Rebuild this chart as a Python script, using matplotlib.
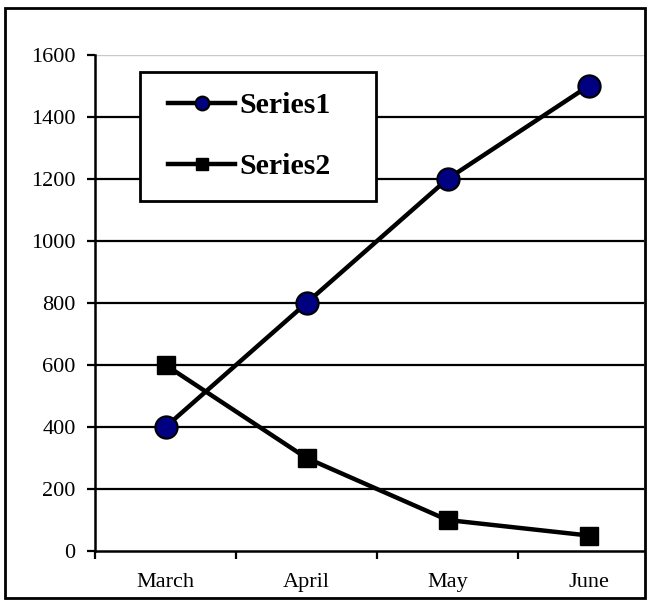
import matplotlib
matplotlib.use("Agg")
import matplotlib.pyplot as plt
from matplotlib.patches import Rectangle

categories = ["March", "April", "May", "June"]
series1 = [400, 800, 1200, 1500]
series2 = [600, 300, 100, 50]
series_names = ["Series1", "Series2"]
yticks = [0, 200, 400, 600, 800, 1000, 1200, 1400, 1600]

W, H = 649, 603
fig = plt.figure(figsize=(W / 100, H / 100), dpi=100)
plt.rcParams['font.family'] = ['Liberation Serif', 'DejaVu Serif']

ax_l, ax_r, ax_b, ax_t = 95, 644, 603 - 551, 603 - 55
ax = fig.add_axes([ax_l / W, ax_b / H, (ax_r - ax_l) / W, (ax_t - ax_b) / H])

x = list(range(len(categories)))
step = 141.0
ax.set_xlim(-0.5, -0.5 + (ax_r - ax_l) / step)
ax.set_ylim(0, 1600)

for v in yticks[1:]:
    col = "#c8c8c8" if v == 1600 else "black"
    lw = 1.0 if v == 1600 else 1.6
    ax.axhline(v, color=col, lw=lw, zorder=1)

ax.plot(x, series1, color="black", lw=3.2, marker="o", markersize=16,
        markerfacecolor="#000080", markeredgecolor="black", markeredgewidth=1.5,
        label=series_names[0], zorder=3)
ax.plot(x, series2, color="black", lw=3.2, marker="s", markersize=13,
        markerfacecolor="black", markeredgecolor="black",
        label=series_names[1], zorder=3)

ax.set_yticks(yticks)
ax.set_yticklabels([str(v) for v in yticks], fontsize=16)
ax.set_xticks([i - 0.5 for i in x])
ax.set_xticklabels([])
ax.set_xticks(x, minor=True)
ax.set_xticklabels(categories, minor=True, fontsize=16)
ax.tick_params(axis="x", which="minor", length=0, pad=16)
ax.tick_params(axis="x", which="major", length=6, width=1.6, direction="out")
ax.tick_params(axis="y", length=6, width=1.6, direction="out", pad=8)

for s in ["top", "right"]:
    ax.spines[s].set_visible(False)
for s in ["left", "bottom"]:
    ax.spines[s].set_linewidth(1.8)
    ax.spines[s].set_zorder(4)

# legend box drawn in the axes, frameless legend content above it
leg_x0, leg_y0, leg_x1, leg_y1 = 140, 72, 376, 201
ax.add_patch(Rectangle((leg_x0 / W, 1 - leg_y1 / H), (leg_x1 - leg_x0) / W,
                       (leg_y1 - leg_y0) / H, transform=fig.transFigure,
                       facecolor="white", edgecolor="black", lw=2.0, zorder=5,
                       clip_on=False))
leg = ax.legend(loc="upper left", bbox_to_anchor=(168 / W, 1 - 92 / H),
                bbox_transform=fig.transFigure, borderaxespad=0, borderpad=0,
                prop={"family": "Liberation Serif", "weight": "bold", "size": 21.5},
                frameon=False, handlelength=2.25, handletextpad=0.15,
                labelspacing=1.15, markerscale=0.62)
leg.set_zorder(6)

fig.patches.append(Rectangle((5 / W, 5 / H), 640 / W, 590 / H, transform=fig.transFigure,
                             fill=False, edgecolor="black", lw=2.0))

fig.savefig("out.png", dpi=100)
